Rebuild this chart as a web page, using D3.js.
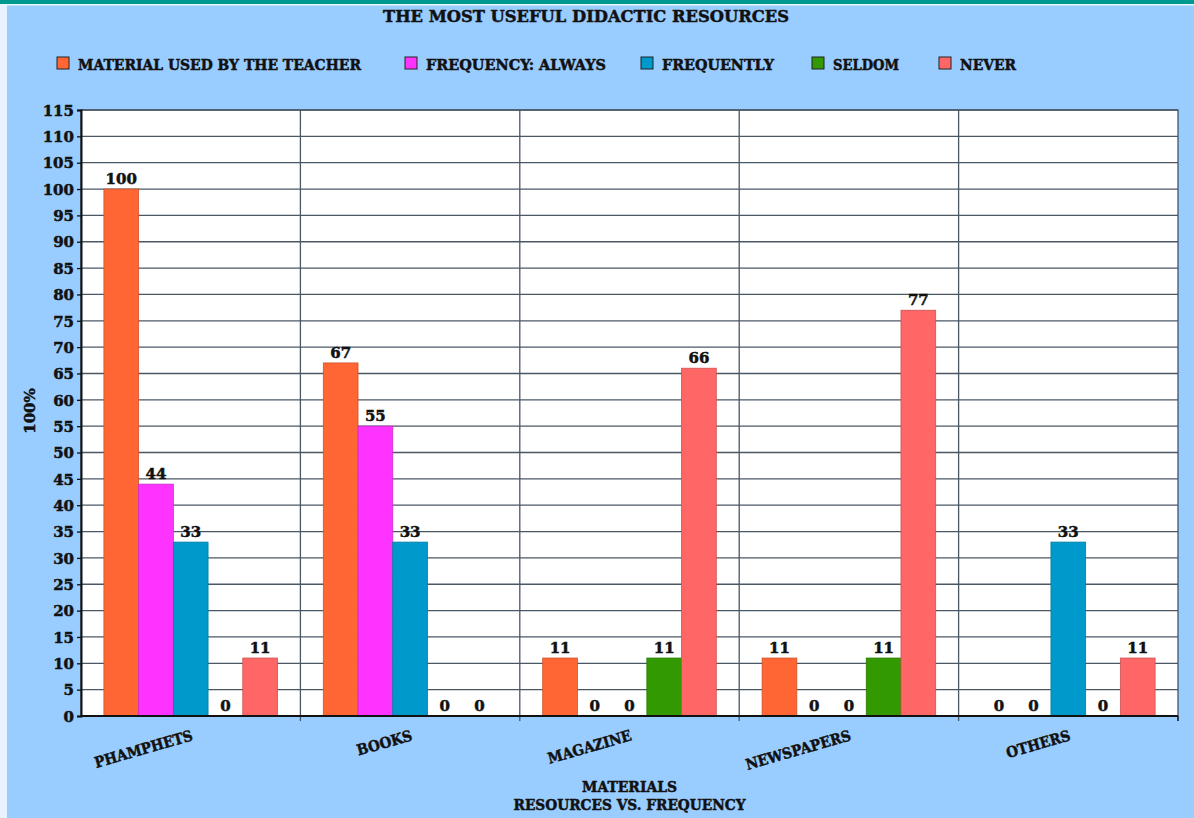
<!DOCTYPE html>
<html><head><meta charset="utf-8">
<script src="https://cdn.jsdelivr.net/npm/d3@7/dist/d3.min.js"></script>
<style>
html,body{margin:0;padding:0;background:#99ccff;}
svg{display:block;}
text{font-family:"DejaVu Serif","Liberation Serif",serif;font-weight:bold;fill:#111;stroke:#111;stroke-width:0.5px;}
</style></head>
<body><svg id="c" width="1194" height="818"></svg>
<script>
const categories = ["PHAMPHETS","BOOKS","MAGAZINE","NEWSPAPERS","OTHERS"];
const seriesNames = ["MATERIAL USED BY THE TEACHER","FREQUENCY: ALWAYS","FREQUENTLY","SELDOM","NEVER"];
const seriesColors = ["#ff6633","#ff33ff","#0099cc","#339900","#ff6666"];
const teacherValues = [100,67,11,11,0];
const alwaysValues = [44,55,0,0,0];
const frequentlyValues = [33,33,0,0,33];
const seldomValues = [0,0,11,11,0];
const neverValues = [11,0,66,77,11];
const yTicks = d3.range(0,116,5);
const title = "THE MOST USEFUL DIDACTIC RESOURCES";
const xTitle1 = "MATERIALS";
const xTitle2 = "RESOURCES VS. FREQUENCY";
const yTitle = "100%";

const seriesValues = [teacherValues, alwaysValues, frequentlyValues, seldomValues, neverValues];

const svg = d3.select("#c");
// background decorations
svg.append("rect").attr("x",0).attr("y",0).attr("width",1194).attr("height",818).attr("fill","#99ccff");
svg.append("rect").attr("x",0).attr("y",0).attr("width",7).attr("height",818).attr("fill","#e8f3ff");
svg.append("rect").attr("x",0).attr("y",0).attr("width",1194).attr("height",4).attr("fill","#009990");
svg.append("rect").attr("x",0).attr("y",4).attr("width",1194).attr("height",1.5).attr("fill","#e8f6ff");

const L=81, R=1178, T=110, B=716;
const x0 = d3.scaleBand().domain(categories).range([L,R]).padding(0);
const x1 = d3.scaleBand().domain(seriesNames).range([0,x0.bandwidth()]).paddingInner(0).paddingOuter(0.66);
const y = d3.scaleLinear().domain([0,115]).range([B,T]);

// plot area
svg.append("rect").attr("x",L).attr("y",T).attr("width",R-L).attr("height",B-T).attr("fill","#ffffff")
  .attr("stroke","#3a4756").attr("stroke-width",1.2);
// gridlines
svg.append("g").selectAll("line").data(yTicks.filter(d=>d>0)).join("line")
  .attr("x1",L).attr("x2",R).attr("y1",d=>y(d)).attr("y2",d=>y(d))
  .attr("stroke","#4a5866").attr("stroke-width",1.3);
svg.append("g").selectAll("line").data(categories.slice(1)).join("line")
  .attr("x1",d=>x0(d)).attr("x2",d=>x0(d)).attr("y1",T).attr("y2",B+5)
  .attr("stroke","#4a5866").attr("stroke-width",1.3);

// bars
const data = [];
categories.forEach((c,i)=>seriesNames.forEach((s,j)=>data.push({c,s,j,v:seriesValues[j][i]})));
svg.append("g").selectAll("rect").data(data.filter(d=>d.v>0)).join("rect")
  .attr("x",d=>x0(d.c)+x1(d.s)).attr("width",x1.bandwidth())
  .attr("y",d=>y(d.v)).attr("height",d=>y(0)-y(d.v))
  .attr("fill",d=>seriesColors[d.j])
  .attr("stroke",d=>d3.color(seriesColors[d.j]).darker(0.6)).attr("stroke-width",0.8);
// value labels
svg.append("g").selectAll("text").data(data).join("text")
  .attr("x",d=>x0(d.c)+x1(d.s)+x1.bandwidth()/2).attr("y",d=>y(d.v)-5)
  .attr("text-anchor","middle").attr("font-size",15).text(d=>d.v);

// y axis
const yAxis = svg.append("g").attr("transform",`translate(${L},0)`)
  .call(d3.axisLeft(y).tickValues(yTicks).tickSize(4).tickPadding(3));
yAxis.select(".domain").attr("stroke","#111").attr("stroke-width",2);
yAxis.selectAll(".tick line").attr("stroke","#111").attr("stroke-width",1.3);
yAxis.selectAll(".tick text").attr("font-size",15).attr("font-family","DejaVu Serif").attr("font-weight","bold").attr("fill","#111").attr("dy","0.35em");

// x axis
const xAxis = svg.append("g").attr("transform",`translate(0,${B})`)
  .call(d3.axisBottom(x0).tickSize(0).tickFormat(""));
xAxis.select(".domain").attr("stroke","#111").attr("stroke-width",2).attr("d",`M${L},0H${R}`);
svg.append("line").attr("x1",R).attr("x2",R).attr("y1",B).attr("y2",B+5).attr("stroke","#111").attr("stroke-width",1.5);
svg.append("g").selectAll("text").data(categories).join("text")
  .attr("transform",d=>`translate(${x0(d)+x0.bandwidth()/2+3},${B+24}) rotate(-16)`)
  .attr("text-anchor","end").attr("font-size",15).text(d=>d)
  .each(function(){ const w=this.getComputedTextLength(); d3.select(this).attr("textLength",w*0.9).attr("lengthAdjust","spacingAndGlyphs"); });

// titles
svg.append("text").attr("x",586).attr("y",22).attr("text-anchor","middle").attr("font-size",17)
  .attr("textLength",406).attr("lengthAdjust","spacingAndGlyphs").text(title);
svg.append("text").attr("x",(L+R)/2).attr("y",792).attr("text-anchor","middle").attr("font-size",15)
  .attr("textLength",95).attr("lengthAdjust","spacingAndGlyphs").text(xTitle1);
svg.append("text").attr("x",(L+R)/2).attr("y",810).attr("text-anchor","middle").attr("font-size",15)
  .attr("textLength",232).attr("lengthAdjust","spacingAndGlyphs").text(xTitle2);
svg.append("text").attr("transform","translate(35,411) rotate(-90)").attr("text-anchor","middle")
  .attr("font-size",15).text(yTitle);

// legend
const legBoxX = [57,405,641,812,939];
const legTextW = [283,180,112,66,56];
const leg = svg.append("g").selectAll("g").data(seriesNames).join("g")
  .attr("transform",(d,i)=>`translate(${legBoxX[i]},57)`);
leg.append("rect").attr("width",12).attr("height",12).attr("fill",(d,i)=>seriesColors[i])
  .style("stroke-width","1px").style("stroke","#222");
leg.append("text").attr("x",21).attr("y",12.5).attr("font-size",15)
  .attr("textLength",(d,i)=>legTextW[i]).attr("lengthAdjust","spacingAndGlyphs").text(d=>d);
</script></body></html>
